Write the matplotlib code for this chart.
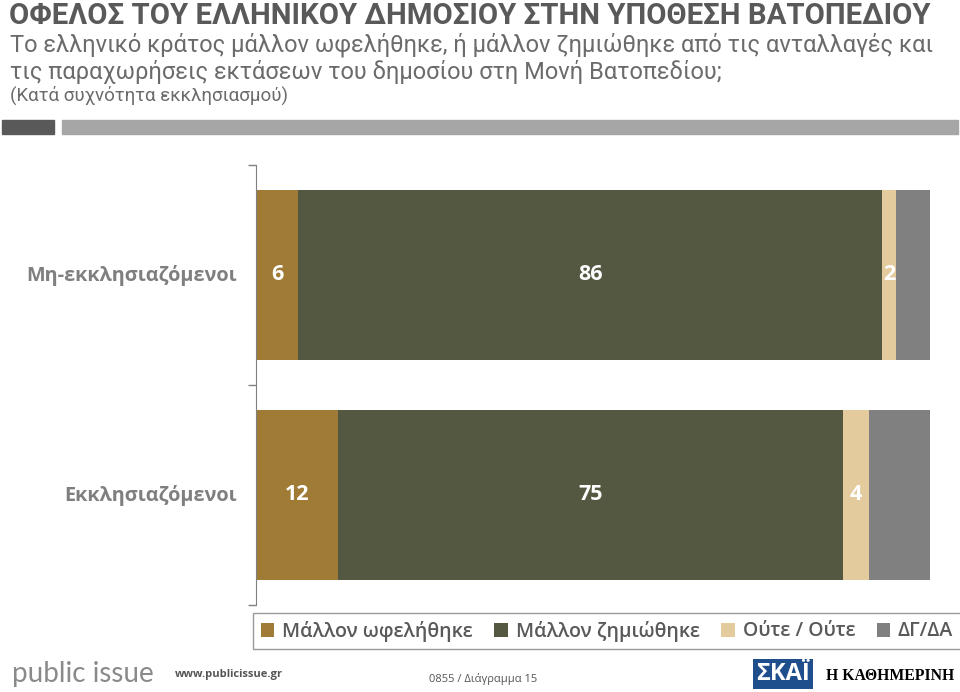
import matplotlib
matplotlib.use("Agg")
import matplotlib.pyplot as plt
from matplotlib.patches import Rectangle
import numpy as np

categories = ["Μη-εκκλησιαζόμενοι", "Εκκλησιαζόμενοι"]
series_names = ["Μάλλον ωφελήθηκε", "Μάλλον ζημιώθηκε", "Ούτε / Ούτε", "ΔΓ/ΔΑ"]
values = {
    "Μάλλον ωφελήθηκε": [6, 12],
    "Μάλλον ζημιώθηκε": [86, 75],
    "Ούτε / Ούτε": [2, 4],
    "ΔΓ/ΔΑ": [5, 9],
}
show_label = [True, True, True, False]
colors = ["#A07B36", "#545840", "#E3CB9E", "#808080"]

plt.rcParams['font.family'] = ['Open Sans', 'DejaVu Sans']

fig = plt.figure(figsize=(9.6, 6.92), dpi=100)
W, H = 960, 692

def fx(px):
    return px / W

def fy(py):
    return 1 - py / H

# Title block
fig.text(fx(9), fy(16), "ΟΦΕΛΟΣ ΤΟΥ ΕΛΛΗΝΙΚΟΥ ΔΗΜΟΣΙΟΥ ΣΤΗΝ ΥΠΟΘΕΣΗ ΒΑΤΟΠΕΔΙΟΥ",
         family=['Roboto', 'DejaVu Sans'], weight='bold',
         fontsize=21.2, color='#595959', va='center', ha='left')
fig.text(fx(10), fy(45), "Το ελληνικό κράτος μάλλον ωφελήθηκε, ή μάλλον ζημιώθηκε από τις ανταλλαγές και",
         family=['Roboto', 'DejaVu Sans'], fontsize=17, color='#6b6b6b', va='center', ha='left')
fig.text(fx(10), fy(72), "τις παραχωρήσεις εκτάσεων του δημοσίου στη Μονή Βατοπεδίου;",
         family=['Roboto', 'DejaVu Sans'], fontsize=17, color='#6b6b6b', va='center', ha='left')
fig.text(fx(10), fy(95), "(Κατά συχνότητα εκκλησιασμού)",
         family=['Roboto', 'DejaVu Sans'], fontsize=13.5, color='#6b6b6b', va='center', ha='left')

# Decorative bars
fig.patches.append(Rectangle((fx(2), fy(134)), fx(54) - fx(2), (134 - 120) / H,
                             transform=fig.transFigure, color='#595959', zorder=0))
fig.patches.append(Rectangle((fx(62), fy(134)), fx(958) - fx(62), (134 - 120) / H,
                             transform=fig.transFigure, color='#A6A6A6', zorder=0))

# Main axes
ax = fig.add_axes([fx(257), fy(605), fx(930) - fx(257), (605 - 165) / H])
data = np.array([values[s] for s in series_names], dtype=float)
shares = data / data.sum(axis=0) * 100
y = np.arange(len(categories))
left = np.zeros(len(categories))
for i, s in enumerate(series_names):
    bars = ax.barh(y, shares[i], left=left, height=0.77, color=colors[i], label=s, edgecolor='none')
    if show_label[i]:
        for j, b in enumerate(bars):
            ax.text(left[j] + shares[i][j] / 2, y[j], f"{int(data[i][j])}", ha='center', va='center',
                    color='white', fontsize=15.5, weight='bold')
    left += shares[i]

ax.set_xlim(0, 100)
ax.set_ylim(len(categories) - 0.5, -0.5)
ax.set_yticks([-0.5, 0.5, 1.5])
ax.set_yticklabels([])
ax.tick_params(axis='y', which='major', length=6, color='#808080', width=1)
for j, c in enumerate(categories):
    ax.annotate(c, xy=(0, y[j]), xycoords=('axes fraction', 'data'),
                xytext=(-20, 0), textcoords='offset pixels',
                ha='right', va='center', fontsize=14.3, weight='bold', color='#7f7f7f')
ax.set_xticks([])
for sp in ['top', 'right', 'bottom']:
    ax.spines[sp].set_visible(False)
ax.spines['left'].set_color('#808080')
ax.spines['left'].set_position(('outward', 1))

# Legend
leg = fig.legend(loc='center', bbox_to_anchor=(fx(607), fy(631)), ncol=4, frameon=True,
                 handlelength=0.7, handleheight=0.7, handletextpad=0.4,
                 columnspacing=1.1, borderpad=0.4, fancybox=False,
                 prop={'weight': 'semibold', 'size': 14})
leg.get_frame().set_edgecolor('#808080')
leg.get_frame().set_linewidth(1)
for t in leg.get_texts():
    t.set_color('#595959')

# Footer
fig.text(fx(12), fy(674), "public issue", fontsize=20, color='#8a8a8a', va='center', ha='left',
         family=['Lato', 'DejaVu Sans'])
fig.text(fx(175), fy(674), "www.publicissue.gr", fontsize=8, color='#555555', va='center', ha='left', weight='bold')
fig.text(fx(483), fy(679), "0855 / Διάγραμμα 15", fontsize=8, color='#555555', va='center', ha='center')
fig.text(fx(783), fy(674), "ΣΚΑΪ", fontsize=17, color='white', va='center', ha='center', weight='bold',
         bbox=dict(boxstyle='square,pad=0.12', fc='#1F4E8C', ec='none'))
fig.text(fx(890), fy(676), "Η ΚΑΘΗΜΕΡΙΝΗ", fontsize=11.3, color='black', va='center', ha='center',
         family=['Liberation Serif', 'DejaVu Serif'], weight='bold')

fig.savefig("out.png", dpi=100)
